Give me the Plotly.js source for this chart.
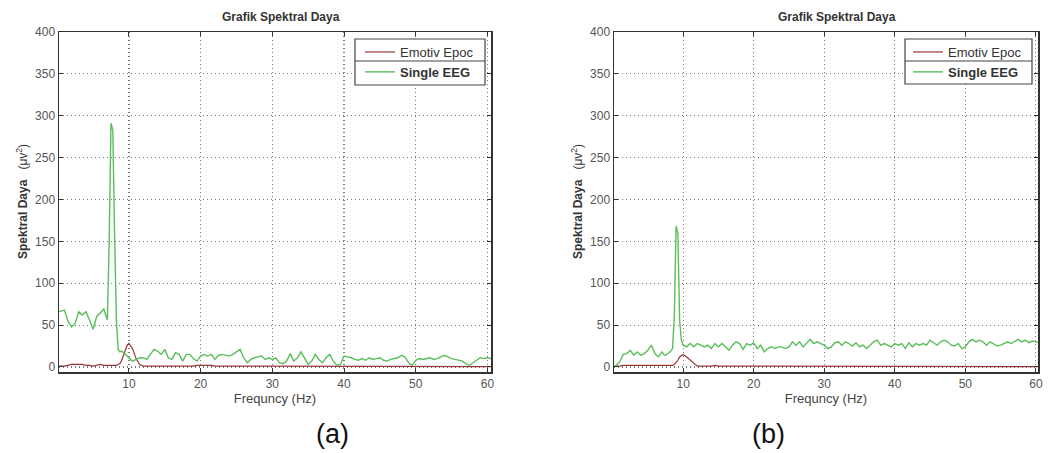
<!DOCTYPE html>
<html>
<head>
<meta charset="utf-8">
<script src="https://cdn.plot.ly/plotly-3.0.1.min.js"></script>
<style>html,body{margin:0;padding:0;background:#fff;}#chart{width:1051px;height:453px;}</style>
</head>
<body>
<div id="chart"></div>
<script>
// Frequency grid (Hz)
const freq = [0.25, 0.5, 1, 1.5, 2, 2.5, 3, 3.5, 4, 4.5, 5, 5.5, 6, 6.5, 7,
  7.25, 7.5, 7.75, 8, 8.25, 8.5, 8.75, 9, 9.25, 9.5, 9.75, 10,
  10.5, 11, 11.5, 12, 12.5, 13, 13.5, 14, 14.5, 15,
  15.5, 16, 16.5, 17, 17.5, 18, 18.5, 19, 19.5, 20,
  20.5, 21, 21.5, 22, 22.5, 23, 23.5, 24, 24.5, 25,
  25.5, 26, 26.5, 27, 27.5, 28, 28.5, 29, 29.5, 30,
  30.5, 31, 31.5, 32, 32.5, 33, 33.5, 34, 34.5, 35,
  35.5, 36, 36.5, 37, 37.5, 38, 38.5, 39, 39.5, 40,
  40.5, 41, 41.5, 42, 42.5, 43, 43.5, 44, 44.5, 45,
  45.5, 46, 46.5, 47, 47.5, 48, 48.5, 49, 49.5, 50,
  50.5, 51, 51.5, 52, 52.5, 53, 53.5, 54, 54.5, 55,
  55.5, 56, 56.5, 57, 57.5, 58, 58.5, 59, 59.5, 60,
  60.5];

// (a) Single EEG
const singleA = [66, 67, 68, 55, 48, 52, 66, 62, 66, 56, 45, 60, 64, 69, 56,
  150, 291, 283, 160, 56, 21, 18, 19, 17, 16, 13, 11,
  7, 9, 11, 11, 9, 15, 21, 19, 15, 21,
  11, 9, 17, 15, 7, 15, 15, 10, 7, 13,
  15, 13, 15, 9, 14, 15, 14, 13, 15, 18,
  21, 11, 5, 9, 11, 12, 13, 9, 11, 9,
  11, 5, 4, 7, 16, 7, 11, 18, 11, 3,
  7, 15, 9, 5, 11, 15, 7, 2, 3, 13,
  12, 11, 9, 8, 10, 8, 11, 9, 10, 11,
  8, 7, 9, 10, 11, 14, 12, 5, 2, 8,
  10, 9, 10, 11, 9, 10, 12, 14, 12, 10,
  9, 8, 7, 4, 2, 5, 8, 11, 10, 11,
  10];
// (a) Emotiv Epoc
const emotivA = [1, 1, 1, 2, 3, 3, 3, 3, 2, 2, 1, 2, 3, 2, 2,
  2, 2, 2, 2, 2, 3, 4, 8, 14, 20, 26, 28,
  22, 10, 3, 1, 1, 1, 1, 1, 1, 1,
  1, 1, 1, 1, 1, 1, 1, 1, 2, 2,
  2, 2, 2, 1, 1, 1, 1, 1, 1, 1,
  1, 1, 1, 1, 1, 1, 1, 1, 1, 1,
  1, 1, 1, 1, 1, 1, 1, 1, 1, 1,
  1, 1, 1, 1, 1, 1, 1, 1, 1, 1,
  1, 1, 1, 1, 1, 0.5, 0.5, 0.5, 0.5, 0.5,
  0.5, 0.5, 0.5, 0.5, 0.5, 0.5, 0.5, 0.5, 0.5, 0.5,
  0.5, 0.5, 0.5, 0.5, 0.5, 0.5, 0.5, 0.5, 0.5, 0.5,
  0.5, 0.5, 0.5, 0.5, 0.5, 0.5, 0.5, 0.5, 0.5, 0.5,
  0.5];

// (b) Single EEG
const singleB = [1, 2, 6, 15, 16, 20, 14, 18, 14, 16, 20, 26, 16, 12, 18,
  15, 14, 15, 17, 19, 22, 60, 168, 160, 56, 32, 26,
  24, 28, 24, 28, 26, 24, 26, 22, 28, 24,
  28, 24, 20, 26, 30, 28, 21, 28, 26, 29,
  22, 26, 18, 22, 24, 22, 24, 24, 22, 24,
  30, 26, 30, 24, 28, 33, 28, 30, 28, 26,
  22, 24, 29, 30, 26, 30, 28, 25, 29, 24,
  26, 22, 26, 30, 32, 26, 28, 26, 24, 28,
  26, 28, 22, 29, 24, 28, 26, 28, 26, 32,
  29, 26, 30, 32, 30, 26, 25, 28, 22, 24,
  30, 33, 30, 32, 30, 26, 30, 28, 25, 26,
  28, 30, 28, 31, 33, 30, 32, 29, 31, 30,
  29];
// (b) Emotiv Epoc
const emotivB = [0.5, 1, 1, 2, 2, 2, 2, 2, 2, 2, 2, 2, 2, 2, 2,
  2, 2, 2, 2, 2, 2, 3, 5, 8, 12, 14, 15,
  12, 8, 4, 1, 1, 1, 1, 1, 2, 1,
  1, 1, 1, 1, 1, 1, 1, 1, 1, 1,
  1, 1, 1, 1, 1, 0.5, 0.5, 0.5, 0.5, 0.5,
  0.5, 0.5, 0.5, 0.5, 0.5, 0.5, 0.5, 0.5, 0.5, 1,
  1, 1, 1, 1, 1, 1, 1, 1, 1, 0.5,
  0.5, 0.5, 0.5, 0.5, 0.5, 0.5, 0.5, 0.5, 0.5, 0.5,
  0.5, 0.5, 0.5, 0.5, 0.5, 0.5, 0.5, 0.5, 0.5, 0.5,
  0.5, 0.5, 0.5, 0.5, 0.5, 0.5, 0.5, 0.5, 0.5, 0.5,
  0.5, 0.5, 0.5, 0.5, 0.5, 0.5, 0.5, 0.5, 0.5, 0.5,
  0.5, 0.5, 0.5, 0.5, 0.5, 0.5, 0.5, 0.5, 0.5, 0.5,
  0.5];

const xTicks = [10, 20, 30, 40, 50, 60];
const yTicks = [0, 50, 100, 150, 200, 250, 300, 350, 400];
const seriesNames = ['Emotiv Epoc', '<b>Single EEG</b>'];
const chartTitle = '<b>Grafik Spektral Daya</b>';
const xTitle = 'Frequncy (Hz)';
const yTitle = '<b>Spektral Daya</b>   (μv<sup>2</sup>)';
const panelLabels = ['(a)', '(b)'];

const RED = 'rgb(150,55,55)';
const GREEN = 'rgb(90,190,90)';
const W = 1051, H = 453;
const px = v => v / W;
const py = v => 1 - v / H;
const FONT = 'Liberation Sans, Arial, sans-serif';

const traces = [
  {x: freq, y: emotivA, name: seriesNames[0], type: 'scatter', mode: 'lines', line: {color: RED, width: 1.2}, xaxis: 'x', yaxis: 'y', legend: 'legend'},
  {x: freq, y: singleA, name: seriesNames[1], type: 'scatter', mode: 'lines', line: {color: GREEN, width: 1.4}, xaxis: 'x', yaxis: 'y', legend: 'legend'},
  {x: freq, y: emotivB, name: seriesNames[0], type: 'scatter', mode: 'lines', line: {color: RED, width: 1.2}, xaxis: 'x2', yaxis: 'y2', legend: 'legend2'},
  {x: freq, y: singleB, name: seriesNames[1], type: 'scatter', mode: 'lines', line: {color: GREEN, width: 1.4}, xaxis: 'x2', yaxis: 'y2', legend: 'legend2'}
];

const tickFont = {family: FONT, size: 12, color: '#555'};
function xAxis(domain, range, anchor) {
  return {domain: domain, range: range, anchor: anchor, tickvals: xTicks, ticks: 'inside', ticklen: 4,
    tickcolor: '#333', showline: true, linecolor: '#333', linewidth: 1.5, mirror: 'allticks',
    showgrid: true, gridcolor: '#777', griddash: '1px,3px', gridwidth: 1.2, zeroline: false,
    tickfont: tickFont,
    title: {text: xTitle, font: {family: FONT, size: 13, color: '#444'}, standoff: 3}};
}
function yAxis(anchor) {
  return {domain: [py(372), py(32)], range: [-6, 400], anchor: anchor, tickvals: yTicks, ticks: 'inside', ticklen: 4,
    tickcolor: '#333', showline: true, linecolor: '#333', linewidth: 1.5, mirror: 'allticks',
    showgrid: true, gridcolor: '#777', griddash: '1px,3px', gridwidth: 1.2, zeroline: false,
    tickfont: tickFont};
}

const legendFont = {family: FONT, size: 13, color: '#333'};
function legendBox(x0, x1, y0, y1, ymid) {
  return [
    {type: 'rect', xref: 'paper', yref: 'paper', x0: px(x0), x1: px(x1), y0: py(y1), y1: py(y0),
      fillcolor: 'white', line: {color: '#444', width: 1.2}, layer: 'above'},
    {type: 'line', xref: 'paper', yref: 'paper', x0: px(x0), x1: px(x1), y0: py(ymid), y1: py(ymid),
      line: {color: '#444', width: 1.2}, layer: 'above'}
  ];
}

const annFont = {family: FONT, size: 12, color: '#333'};
const layout = {
  width: W, height: H,
  margin: {l: 0, r: 0, t: 0, b: 0},
  paper_bgcolor: 'white', plot_bgcolor: 'white',
  showlegend: true,
  xaxis: xAxis([px(59), px(491)], [0.25, 60.5], 'y'),
  yaxis: yAxis('x'),
  xaxis2: xAxis([px(614), px(1038)], [0.2, 60.3], 'y2'),
  yaxis2: yAxis('x2'),
  legend: {x: px(360), y: py(37), xanchor: 'left', yanchor: 'top', bgcolor: 'rgba(0,0,0,0)', borderwidth: 0, font: legendFont, tracegroupgap: 0},
  legend2: {x: px(908), y: py(37), xanchor: 'left', yanchor: 'top', bgcolor: 'rgba(0,0,0,0)', borderwidth: 0, font: legendFont, tracegroupgap: 0},
  shapes: [].concat(legendBox(355, 485, 39, 85, 61), legendBox(905, 1032, 39, 84, 61)),
  annotations: [
    {text: chartTitle, xref: 'paper', yref: 'paper', x: px(281), y: py(17), showarrow: false, font: annFont, xanchor: 'center', yanchor: 'middle'},
    {text: chartTitle, xref: 'paper', yref: 'paper', x: px(837), y: py(17), showarrow: false, font: annFont, xanchor: 'center', yanchor: 'middle'},
    {text: yTitle, xref: 'paper', yref: 'paper', x: px(22), y: py(202), showarrow: false, textangle: -90, font: annFont, xanchor: 'center', yanchor: 'middle'},
    {text: yTitle, xref: 'paper', yref: 'paper', x: px(577), y: py(202), showarrow: false, textangle: -90, font: annFont, xanchor: 'center', yanchor: 'middle'},
    {text: panelLabels[0], xref: 'paper', yref: 'paper', x: px(332), y: py(434), showarrow: false, font: {family: FONT, size: 27, color: '#111'}, xanchor: 'center', yanchor: 'middle'},
    {text: panelLabels[1], xref: 'paper', yref: 'paper', x: px(768), y: py(434), showarrow: false, font: {family: FONT, size: 27, color: '#111'}, xanchor: 'center', yanchor: 'middle'}
  ]
};

Plotly.newPlot('chart', traces, layout, {displayModeBar: false, staticPlot: true});
</script>
</body>
</html>
